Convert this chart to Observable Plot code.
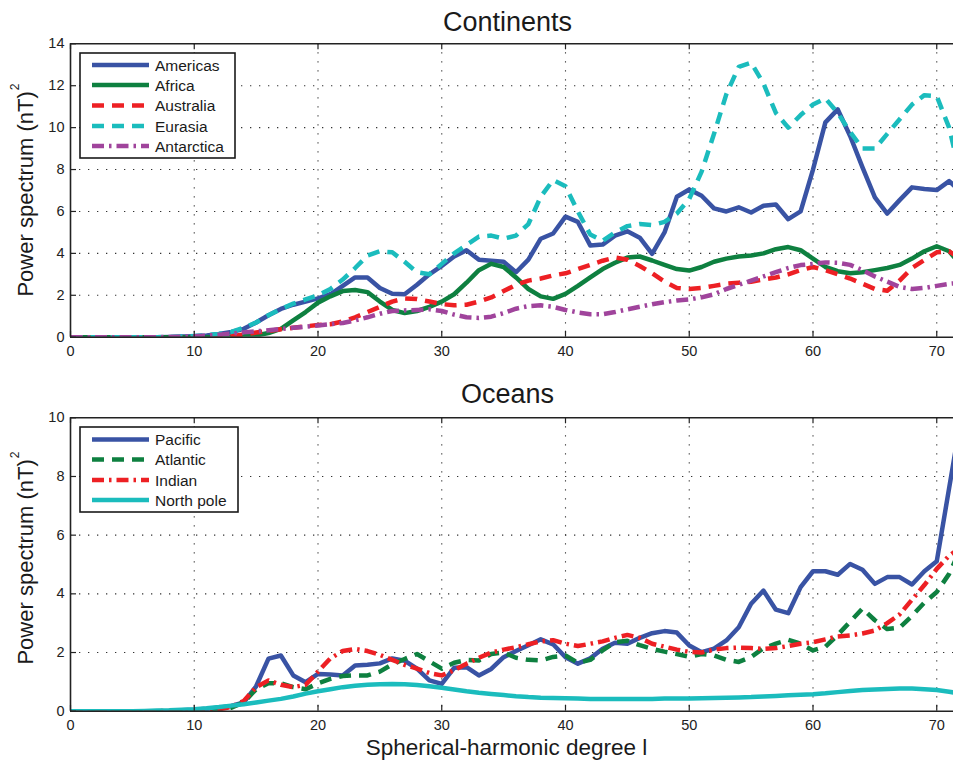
<!DOCTYPE html>
<html>
<head>
<meta charset="utf-8">
<script src="https://cdn.jsdelivr.net/npm/d3@7"></script>
<script src="https://cdn.jsdelivr.net/npm/@observablehq/plot@0.6"></script>
<style>
  html, body { margin: 0; padding: 0; background: #fff; overflow: hidden; }
  #wrap { position: relative; width: 953px; height: 762px; overflow: hidden; background: #fff;
          font-family: "Liberation Sans", Arial, Helvetica, sans-serif; }
  #wrap > div, #wrap > svg { position: absolute; left: 0; }
  #wrap svg { max-width: none !important; }
</style>
</head>
<body>
<div id="wrap">
  <div id="topPanel" style="top:0"></div>
  <div id="bottomPanel" style="top:370px"></div>
</div>
<script>
// ---------------- data ----------------
const degrees = d3.range(0, 73);
const xTicks = [0, 10, 20, 30, 40, 50, 60, 70];
const topYTicks = [0, 2, 4, 6, 8, 10, 12, 14];
const bottomYTicks = [0, 2, 4, 6, 8, 10];

const topTitle = "Continents";
const bottomTitle = "Oceans";
const yLabel = "Power spectrum (nT)";
const yLabelSup = "2";
const xLabel = "Spherical-harmonic degree l";

const continentNames = ["Americas", "Africa", "Australia", "Eurasia", "Antarctica"];
const oceanNames = ["Pacific", "Atlantic", "Indian", "North pole"];

const americas = [0,0,0,0,0,0,0,0,0.01,0.03,
  0.05,0.08,0.15,0.25,0.4,0.7,1.05,1.35,1.55,1.7,
  1.85,2.05,2.45,2.85,2.85,2.35,2.07,2.05,2.5,3.0,
  3.4,3.85,4.15,3.7,3.65,3.6,3.1,3.7,4.7,4.95,
  5.75,5.5,4.38,4.42,4.85,5.05,4.75,3.98,5.0,6.7,
  7.05,6.75,6.15,6.0,6.2,5.95,6.27,6.33,5.63,6.0,
  8.0,10.25,10.87,9.6,8.1,6.67,5.9,6.54,7.15,7.07,
  7.02,7.45,6.9];
const africa = [0,0,0,0,0,0,0,0,0,0,
  0,0,0.01,0.02,0.04,0.08,0.2,0.4,0.8,1.2,
  1.65,1.95,2.2,2.25,2.15,1.7,1.3,1.15,1.25,1.45,
  1.7,2.05,2.6,3.2,3.5,3.35,2.85,2.3,1.95,1.83,
  2.07,2.45,2.85,3.25,3.55,3.8,3.85,3.66,3.45,3.25,
  3.18,3.35,3.6,3.75,3.85,3.9,4.0,4.2,4.3,4.15,
  3.75,3.35,3.15,3.05,3.1,3.2,3.3,3.45,3.75,4.1,
  4.34,4.1,3.4];
const australia = [0,0,0,0,0,0,0,0,0,0,
  0,0,0.02,0.05,0.12,0.22,0.3,0.38,0.45,0.52,
  0.58,0.62,0.75,0.95,1.2,1.45,1.7,1.85,1.82,1.7,
  1.58,1.52,1.55,1.7,1.9,2.2,2.5,2.7,2.8,2.95,
  3.05,3.25,3.45,3.65,3.8,3.7,3.4,3.05,2.65,2.35,
  2.3,2.35,2.45,2.55,2.6,2.65,2.75,2.85,3.0,3.2,
  3.35,3.2,3.0,2.8,2.55,2.3,2.22,2.7,3.3,3.68,
  4.05,4.1,3.7];
const eurasia = [0,0,0,0,0,0,0,0,0.01,0.03,
  0.06,0.1,0.15,0.25,0.45,0.7,1.05,1.35,1.6,1.8,
  2.0,2.3,2.75,3.3,3.9,4.1,4.05,3.6,3.1,3.0,
  3.5,4.0,4.4,4.8,4.85,4.7,4.85,5.4,6.7,7.5,
  7.2,6.0,4.9,4.6,5.0,5.3,5.4,5.35,5.5,5.9,
  6.6,7.9,9.7,11.6,12.9,13.1,12.1,10.7,10.0,10.6,
  11.1,11.4,10.7,9.8,9.0,9.0,9.7,10.4,11.1,11.55,
  11.5,10.0,7.5];
const antarctica = [0,0,0,0,0,0,0,0,0.01,0.02,
  0.04,0.08,0.12,0.17,0.23,0.28,0.33,0.39,0.45,0.5,
  0.56,0.62,0.68,0.8,0.95,1.12,1.25,1.28,1.3,1.33,
  1.25,1.08,0.95,0.92,0.98,1.15,1.36,1.48,1.52,1.45,
  1.3,1.18,1.1,1.1,1.2,1.33,1.45,1.57,1.67,1.75,
  1.8,1.9,2.05,2.3,2.5,2.7,2.9,3.1,3.3,3.44,
  3.5,3.57,3.55,3.45,3.2,2.9,2.65,2.4,2.3,2.35,
  2.45,2.55,2.6];

const pacific = [0,0,0,0,0,0,0,0,0.01,0.03,
  0.05,0.08,0.12,0.18,0.3,0.85,1.79,1.9,1.22,0.99,
  1.27,1.25,1.22,1.56,1.58,1.63,1.8,1.72,1.45,1.05,
  0.93,1.48,1.5,1.22,1.44,1.84,2.05,2.25,2.45,2.28,
  1.84,1.62,1.8,2.13,2.33,2.3,2.5,2.66,2.73,2.68,
  2.24,2.01,2.13,2.41,2.86,3.66,4.11,3.46,3.34,4.23,
  4.77,4.77,4.65,5.02,4.82,4.34,4.57,4.57,4.32,4.77,
  5.11,7.6,10.1];
const atlantic = [0,0,0,0,0,0,0,0,0.01,0.02,
  0.03,0.04,0.05,0.12,0.3,0.75,0.95,0.95,0.82,0.75,
  0.95,1.1,1.2,1.22,1.22,1.35,1.6,1.78,1.95,1.7,
  1.45,1.65,1.75,1.73,1.95,2.0,1.82,1.75,1.73,1.85,
  1.9,1.65,1.75,2.07,2.35,2.4,2.25,2.12,2.03,1.95,
  1.85,1.95,1.9,1.75,1.68,1.85,2.15,2.3,2.43,2.3,
  2.07,2.2,2.6,3.05,3.5,3.1,2.8,2.85,3.25,3.7,
  4.06,4.68,5.6];
const indian = [0,0,0,0,0,0,0,0,0.01,0.02,
  0.03,0.04,0.05,0.15,0.35,0.82,1.05,0.9,0.82,0.9,
  1.35,1.8,2.05,2.12,2.05,1.92,1.75,1.58,1.45,1.3,
  1.22,1.4,1.62,1.82,2.0,2.1,2.18,2.28,2.38,2.42,
  2.3,2.22,2.3,2.38,2.5,2.6,2.5,2.3,2.2,2.1,
  2.02,2.0,2.1,2.15,2.17,2.15,2.12,2.15,2.22,2.3,
  2.35,2.45,2.55,2.58,2.65,2.75,3.0,3.3,3.8,4.3,
  4.85,5.3,5.6];
const northPole = [0,0,0,0,0,0,0.01,0.02,0.03,0.05,
  0.07,0.1,0.14,0.19,0.24,0.3,0.36,0.42,0.5,0.6,
  0.68,0.75,0.82,0.87,0.9,0.92,0.93,0.92,0.89,0.85,
  0.8,0.74,0.68,0.63,0.59,0.55,0.51,0.48,0.46,0.45,
  0.44,0.43,0.42,0.42,0.42,0.42,0.42,0.42,0.43,0.43,
  0.43,0.44,0.45,0.46,0.47,0.48,0.5,0.52,0.54,0.56,
  0.58,0.61,0.65,0.69,0.72,0.74,0.76,0.77,0.77,0.75,
  0.72,0.66,0.6];

// ---------------- styles ----------------
const BLUE = "#3953a4", GREEN = "#0e8040", RED = "#ed2024", CYAN = "#1bbcbd", PURPLE = "#a0449c";
const DASH = "12,8", DASHDOT = "12,5,2.5,5";
const continentStyles = [
  {values: americas, stroke: BLUE, dash: null},
  {values: africa, stroke: GREEN, dash: null},
  {values: australia, stroke: RED, dash: DASH},
  {values: eurasia, stroke: CYAN, dash: DASH},
  {values: antarctica, stroke: PURPLE, dash: DASHDOT}
];
const oceanStyles = [
  {values: pacific, stroke: BLUE, dash: null},
  {values: atlantic, stroke: GREEN, dash: DASH},
  {values: indian, stroke: RED, dash: DASHDOT},
  {values: northPole, stroke: CYAN, dash: null}
];

function panel({height, marginTop, marginBottom, yMax, yTicks, series}) {
  const marginLeft = 70, width = 961;
  const frameH = height - marginTop - marginBottom;
  const frameW = width - marginLeft;
  const lineMarks = series.map(s => Plot.lineY(
    degrees.map((d, i) => ({d, v: s.values[i]})),
    {x: "d", y: "v", stroke: s.stroke, strokeWidth: 4.5,
     strokeDasharray: s.dash || undefined,
     strokeLinecap: s.dash ? "butt" : "round", strokeLinejoin: "round", clip: true}
  ));
  const svg = Plot.plot({
    width, height, marginLeft, marginRight: 0, marginTop, marginBottom,
    style: {fontFamily: '"Liberation Sans", Arial, sans-serif', fontSize: "14.5px", color: "#222", background: "transparent", maxWidth: "none"},
    x: {domain: [0, 72]},
    y: {domain: [0, yMax]},
    marks: [
      Plot.gridX(xTicks.filter(t => t > 0), {stroke: "#333", strokeOpacity: 1, strokeWidth: 1.1, strokeDasharray: "1.3,7.7"}),
      Plot.gridY(yTicks.filter(t => t > 0 && t < yMax), {stroke: "#333", strokeOpacity: 1, strokeWidth: 1.1, strokeDasharray: "1.3,7.7"}),
      ...lineMarks,
      // inward tick marks (MATLAB style)
      Plot.ruleX(xTicks, {x: d => d, insetTop: frameH - 6, stroke: "#222", strokeWidth: 1.2}),
      Plot.ruleX(xTicks, {x: d => d, insetBottom: frameH - 6, stroke: "#222", strokeWidth: 1.2}),
      Plot.ruleY(yTicks, {y: d => d, insetRight: frameW - 6, stroke: "#222", strokeWidth: 1.2}),
      // box
      Plot.ruleY([0], {stroke: "#222", strokeWidth: 1.6}),
      Plot.ruleY([yMax], {stroke: "#222", strokeWidth: 1.6}),
      Plot.ruleX([0], {stroke: "#222", strokeWidth: 1.6}),
      Plot.axisX(xTicks, {tickSize: 0, tickPadding: 9, label: null, tickFormat: d => String(d)}),
      Plot.axisY(yTicks, {tickSize: 0, tickPadding: 6, label: null, tickFormat: d => String(d)})
    ]
  });
  svg.style.maxWidth = "none";
  svg.style.width = width + "px";
  svg.style.height = height + "px";
  return svg;
}

document.getElementById("topPanel").appendChild(panel({
  height: 360, marginTop: 43.3, marginBottom: 23.3, yMax: 14, yTicks: topYTicks, series: continentStyles
}));
document.getElementById("bottomPanel").appendChild(panel({
  height: 392, marginTop: 47.3, marginBottom: 51.3, yMax: 10, yTicks: bottomYTicks, series: oceanStyles
}));

// ---------------- text + legends overlay ----------------
const ns = "http://www.w3.org/2000/svg";
const ov = document.createElementNS(ns, "svg");
ov.setAttribute("width", 953); ov.setAttribute("height", 762);
ov.style.position = "absolute"; ov.style.left = "0"; ov.style.top = "0";
ov.style.fontFamily = '"Liberation Sans", Arial, sans-serif';
document.getElementById("wrap").appendChild(ov);

function txt(str, x, y, size, opts = {}) {
  const t = document.createElementNS(ns, "text");
  t.setAttribute("x", x); t.setAttribute("y", y);
  t.setAttribute("font-size", size);
  t.setAttribute("fill", "#1a1a1a");
  t.setAttribute("text-anchor", opts.anchor || "start");
  if (opts.rotate) t.setAttribute("transform", `rotate(-90 ${x} ${y})`);
  t.appendChild(document.createTextNode(str));
  if (opts.sup) {
    const s = document.createElementNS(ns, "tspan");
    s.setAttribute("font-size", size * 0.55);
    s.setAttribute("dy", -size * 0.62);
    s.setAttribute("dx", 1);
    s.textContent = opts.sup;
    t.appendChild(s);
  }
  ov.appendChild(t);
  return t;
}
txt(topTitle, 507.5, 31, 27, {anchor: "middle"});
txt(bottomTitle, 507.5, 403, 27, {anchor: "middle"});
txt(yLabel, 33, 190, 22, {anchor: "middle", rotate: true, sup: yLabelSup});
txt(yLabel, 33, 558, 22, {anchor: "middle", rotate: true, sup: yLabelSup});
txt(xLabel, 506.5, 755, 22.5, {anchor: "middle"});

function legend(x, y, w, h, names, styles, rowYs) {
  const r = document.createElementNS(ns, "rect");
  r.setAttribute("x", x); r.setAttribute("y", y); r.setAttribute("width", w); r.setAttribute("height", h);
  r.setAttribute("fill", "#fff"); r.setAttribute("stroke", "#1a1a1a"); r.setAttribute("stroke-width", 1.6);
  ov.appendChild(r);
  names.forEach((name, i) => {
    const ly = rowYs[i];
    const l = document.createElementNS(ns, "line");
    l.setAttribute("x1", 92); l.setAttribute("x2", 149); l.setAttribute("y1", ly); l.setAttribute("y2", ly);
    l.setAttribute("stroke", styles[i].stroke); l.setAttribute("stroke-width", 4.5);
    if (styles[i].dash) l.setAttribute("stroke-dasharray", styles[i].dash);
    ov.appendChild(l);
    txt(name, 155, ly + 5.5, 15.5);
  });
}
legend(80, 53, 155, 105, continentNames, continentStyles, [65, 85, 105.5, 126, 146]);
legend(80, 427, 158, 85, oceanNames, oceanStyles, [439.5, 459.5, 480, 500]);
</script>
</body>
</html>
